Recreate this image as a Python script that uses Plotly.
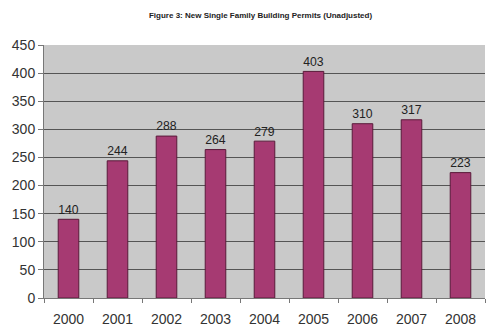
import plotly.graph_objects as go

years = ["2000", "2001", "2002", "2003", "2004", "2005", "2006", "2007", "2008"]
permits = [140, 244, 288, 264, 279, 403, 310, 317, 223]
y_ticks = [0, 50, 100, 150, 200, 250, 300, 350, 400, 450]

fig = go.Figure(go.Bar(
    x=years, y=permits,
    text=[str(v) for v in permits], textposition="outside",
    textfont=dict(family="Arial, Liberation Sans", size=14, color="#222"),
    marker=dict(color="#A63A72", line=dict(color="#5a1a3a", width=1)),
    cliponaxis=False,
))

fig.update_layout(
    width=487, height=331,
    margin=dict(l=44, r=2, t=45, b=33),
    paper_bgcolor="white", plot_bgcolor="#C9C9C9",
    bargap=0.58,
    showlegend=False,
    title=dict(text="<b>Figure 3: New Single Family Building Permits (Unadjusted)</b>",
               x=0.535, xanchor="center", y=0.955, yanchor="middle",
               font=dict(family="Arial, Liberation Sans", size=8, color="#222")),
    font=dict(family="Arial, Liberation Sans", size=14, color="#333"),
)
fig.update_yaxes(range=[0, 450], tickvals=y_ticks, showgrid=True, gridcolor="#555",
                 gridwidth=1, showline=True, linecolor="#777", ticks="outside",
                 ticklen=5, tickcolor="#777", zeroline=False,
                 tickfont=dict(size=14, color="#333"))
fig.update_xaxes(showline=True, linecolor="#777", ticks="outside", tickson="boundaries",
                 ticklen=4, tickcolor="#777", ticklabelstandoff=8,
                 tickfont=dict(size=14, color="#333"))

fig.write_html("out.html")
